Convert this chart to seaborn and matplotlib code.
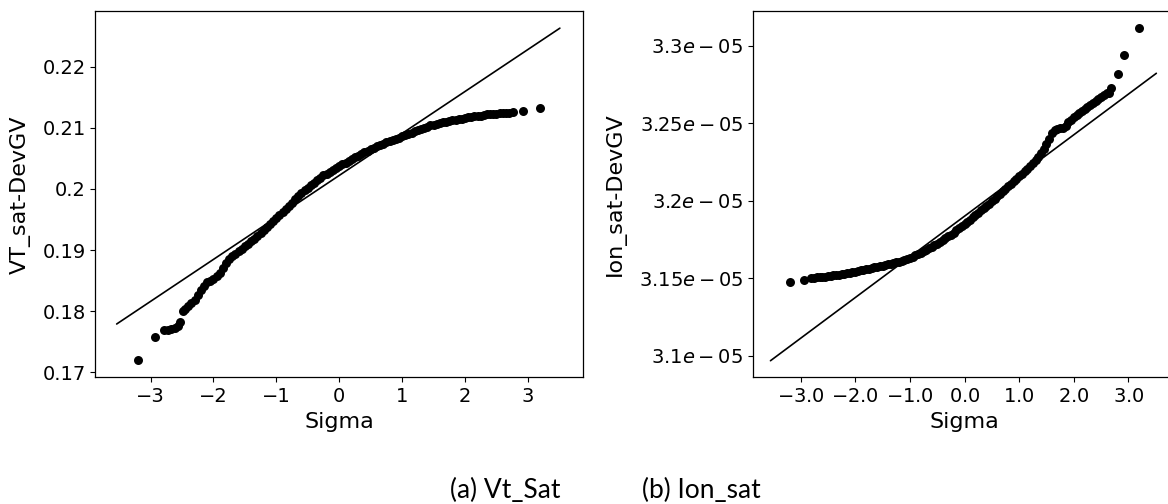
import matplotlib
matplotlib.use("Agg")
import matplotlib.pyplot as plt
import seaborn as sns

# ---------------- data ----------------
# (a) Vt_Sat : theoretical quantile (Sigma) vs sorted sample value
vt_sigma = [-3.20, -2.93, -2.79, -2.72, -2.67, -2.62, -2.57, -2.53, -2.49,
            -2.45, -2.40, -2.35, -2.30, -2.25, -2.20, -2.15, -2.10, -2.05, -2.00,
            -1.95, -1.90, -1.85, -1.80, -1.75, -1.70, -1.65, -1.60, -1.55, -1.50,
            -1.45, -1.40, -1.35, -1.30, -1.25, -1.20, -1.15, -1.10, -1.05, -1.00,
            -0.95, -0.90, -0.85, -0.80, -0.75, -0.70, -0.65, -0.60, -0.55, -0.50,
            -0.45, -0.40, -0.35, -0.30, -0.25, -0.20, -0.15, -0.10, -0.05, 0.00,
            0.05, 0.10, 0.15, 0.20, 0.25, 0.30, 0.35, 0.40, 0.45, 0.50,
            0.55, 0.60, 0.65, 0.70, 0.75, 0.80, 0.85, 0.90, 0.95, 1.00,
            1.05, 1.10, 1.15, 1.20, 1.25, 1.30, 1.35, 1.40, 1.45, 1.50,
            1.55, 1.60, 1.65, 1.70, 1.75, 1.80, 1.85, 1.90, 1.95, 2.00,
            2.05, 2.10, 2.15, 2.20, 2.25, 2.30, 2.35, 2.40, 2.45, 2.50,
            2.55, 2.60, 2.65, 2.70, 2.76, 2.92, 3.19]
vt_value = [0.1720, 0.1757, 0.1770, 0.1770, 0.1771, 0.1773, 0.1776, 0.1782, 0.1800,
            0.1804, 0.1809, 0.1813, 0.1818, 0.1826, 0.1835, 0.1841, 0.1847, 0.1850, 0.1853,
            0.1857, 0.1862, 0.1870, 0.1878, 0.1885, 0.1890, 0.1894, 0.1898, 0.1902, 0.1906,
            0.1910, 0.1914, 0.1918, 0.1923, 0.1928, 0.1933, 0.1938, 0.1942, 0.1947, 0.1952,
            0.1957, 0.1962, 0.1967, 0.1972, 0.1977, 0.1983, 0.1988, 0.1993, 0.1998, 0.2002,
            0.2006, 0.2010, 0.2014, 0.2018, 0.2022, 0.2025, 0.2028, 0.2031, 0.2034, 0.2037,
            0.2040, 0.2043, 0.2046, 0.2049, 0.2052, 0.2054, 0.2057, 0.2060, 0.2062, 0.2065,
            0.2067, 0.2070, 0.2072, 0.2074, 0.2076, 0.2078, 0.2080, 0.2082, 0.2084, 0.2086,
            0.2088, 0.2090, 0.2092, 0.2094, 0.2096, 0.2098, 0.2100, 0.2102, 0.2104, 0.2105,
            0.2107, 0.2108, 0.2109, 0.2110, 0.2111, 0.2112, 0.2113, 0.2114, 0.2115, 0.2116,
            0.2117, 0.2118, 0.2119, 0.2120, 0.2120, 0.2121, 0.2122, 0.2122, 0.2123, 0.2123,
            0.2124, 0.2124, 0.2125, 0.2125, 0.2126, 0.2127, 0.2132]
vt_line_x = [-3.54, 3.51]
vt_line_y = [0.1779, 0.2263]

# (b) Ion_sat (values in units of 1e-5)
ion_sigma = [-3.20, -2.93,
             -2.80, -2.75, -2.70, -2.65, -2.60, -2.55, -2.50, -2.45, -2.40, -2.35,
             -2.30, -2.25, -2.20, -2.15, -2.10, -2.05, -2.00, -1.95, -1.90, -1.85,
             -1.80, -1.75, -1.70, -1.65, -1.60, -1.55, -1.50, -1.45, -1.40, -1.35,
             -1.30, -1.25, -1.20, -1.15, -1.10, -1.05, -1.00, -0.95, -0.90, -0.85,
             -0.80, -0.75, -0.70, -0.65, -0.60, -0.55, -0.50, -0.45, -0.40, -0.35,
             -0.30, -0.25, -0.20, -0.15, -0.10, -0.05, 0.00, 0.05, 0.10, 0.15,
             0.20, 0.25, 0.30, 0.35, 0.40, 0.45, 0.50, 0.55, 0.60, 0.65,
             0.70, 0.75, 0.80, 0.85, 0.90, 0.95, 1.00, 1.05, 1.10, 1.15,
             1.20, 1.25, 1.30, 1.35, 1.40, 1.45, 1.50, 1.55, 1.60, 1.65,
             1.70, 1.75, 1.80, 1.85, 1.90, 1.95, 2.00, 2.05, 2.10, 2.15,
             2.20, 2.25, 2.30, 2.35, 2.40, 2.45, 2.50, 2.55, 2.60, 2.65,
             2.68, 2.80, 2.92, 3.20]
ion_value_e5 = [3.1475, 3.1488,
                3.1500, 3.1503, 3.1505, 3.1507, 3.1508, 3.1510, 3.1513, 3.1516, 3.1518, 3.1521,
                3.1524, 3.1527, 3.1530, 3.1533, 3.1536, 3.1540, 3.1543, 3.1547, 3.1551, 3.1555,
                3.1558, 3.1562, 3.1566, 3.1570, 3.1574, 3.1578, 3.1582, 3.1587, 3.1591, 3.1595,
                3.1599, 3.1603, 3.1607, 3.1613, 3.1619, 3.1626, 3.1633, 3.1640, 3.1648, 3.1656,
                3.1665, 3.1674, 3.1684, 3.1694, 3.1704, 3.1714, 3.1724, 3.1735, 3.1746, 3.1758,
                3.1770, 3.1782, 3.1795, 3.1808, 3.1821, 3.1835, 3.1849, 3.1863, 3.1877, 3.1892,
                3.1907, 3.1922, 3.1937, 3.1952, 3.1967, 3.1982, 3.1998, 3.2014, 3.2030, 3.2046,
                3.2062, 3.2078, 3.2094, 3.2110, 3.2126, 3.2142, 3.2158, 3.2174, 3.2190, 3.2207,
                3.2224, 3.2242, 3.2262, 3.2284, 3.2308, 3.2335, 3.2365, 3.2400, 3.2435, 3.2455,
                3.2462, 3.2466, 3.2472, 3.2485, 3.2505, 3.2522, 3.2538, 3.2552, 3.2566, 3.2580,
                3.2593, 3.2606, 3.2619, 3.2632, 3.2645, 3.2658, 3.2672, 3.2684, 3.2692, 3.2694,
                3.2730, 3.2820, 3.2940, 3.3112]
ion_line_x = [-3.55, 3.51]
ion_line_y_e5 = [3.0968, 3.2822]

vt_xticks = [-3, -2, -1, 0, 1, 2, 3]
vt_yticks = [0.17, 0.18, 0.19, 0.20, 0.21, 0.22]
vt_yticklabels = ["0.17", "0.18", "0.19", "0.2", "0.21", "0.22"]
ion_xticks = [-3, -2, -1, 0, 1, 2, 3]
ion_xticklabels = ["$-3.0$", "$-2.0$", "$-1.0$", "$0.0$", "$1.0$", "$2.0$", "$3.0$"]
ion_yticks_e5 = [3.10, 3.15, 3.20, 3.25, 3.30]
ion_yticklabels = ["$3.1e-05$", "$3.15e-05$", "$3.2e-05$", "$3.25e-05$", "$3.3e-05$"]

captions = ["(a) Vt_Sat", "(b) Ion_sat"]

# ---------------- figure ----------------
sns.set_theme(style="ticks", rc={
    "axes.edgecolor": "black", "axes.labelcolor": "black",
    "xtick.color": "black", "ytick.color": "black", "text.color": "black",
})
plt.rcParams["font.family"] = ["DejaVu Sans"]
plt.rcParams["mathtext.fontset"] = "dejavusans"

W, H = 1168, 504
fig = plt.figure(figsize=(W / 100, H / 100), dpi=100)
fig.patch.set_facecolor("white")

def box(x0, x1, y0, y1):
    return [x0 / W, 1 - y1 / H, (x1 - x0) / W, (y1 - y0) / H]

axL = fig.add_axes(box(95.3, 582.5, 11.3, 377.3))
axR = fig.add_axes(box(753.0, 1176.0, 11.3, 377.3))

TICK_FS = 14
LAB_FS = 16
MS = 42

# left panel
sns.scatterplot(x=vt_sigma, y=vt_value, ax=axL, color="black", s=MS, linewidth=0, zorder=3)
sns.lineplot(x=vt_line_x, y=vt_line_y, ax=axL, color="black", linewidth=1.2, zorder=2)
axL.set_xlim(-3.88, 3.87)
axL.set_ylim(0.16918, 0.22906)
axL.set_xticks(vt_xticks)
axL.set_yticks(vt_yticks)
axL.set_yticklabels(vt_yticklabels)
axL.set_xlabel("Sigma", fontsize=LAB_FS)
axL.set_ylabel("VT_sat-DevGV", fontsize=LAB_FS)
axL.yaxis.set_label_coords(-0.133, 0.5)

# right panel
ion_value = [v * 1e-5 for v in ion_value_e5]
ion_line_y = [v * 1e-5 for v in ion_line_y_e5]
sns.scatterplot(x=ion_sigma, y=ion_value, ax=axR, color="black", s=MS, linewidth=0, zorder=3)
sns.lineplot(x=ion_line_x, y=ion_line_y, ax=axR, color="black", linewidth=1.2, zorder=2)
axR.set_xlim(-3.87, 3.87)
axR.set_ylim(3.0861e-5, 3.3222e-5)
axR.set_xticks(ion_xticks)
axR.set_xticklabels(ion_xticklabels)
axR.set_yticks([v * 1e-5 for v in ion_yticks_e5])
axR.set_yticklabels(ion_yticklabels)
axR.set_xlabel("Sigma", fontsize=LAB_FS)
axR.set_ylabel("Ion_sat-DevGV", fontsize=LAB_FS)
axR.yaxis.set_label_coords(-0.300, 0.5)

for ax in (axL, axR):
    ax.tick_params(labelsize=TICK_FS, length=3.5, width=0.8)
    for sp in ax.spines.values():
        sp.set_linewidth(0.9)
        sp.set_visible(True)

fig.text(505.5 / W, 1 - 490 / H, captions[0], ha="center", va="center",
         fontsize=19, family=["Lato", "DejaVu Sans"])
fig.text(701 / W, 1 - 490 / H, captions[1], ha="center", va="center",
         fontsize=19, family=["Lato", "DejaVu Sans"])

fig.savefig("out.png", dpi=100, facecolor="white")
